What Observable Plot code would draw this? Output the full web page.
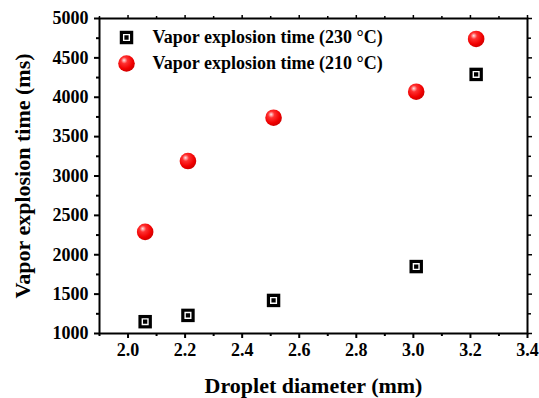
<!DOCTYPE html>
<html>
<head>
<meta charset="utf-8">
<script src="https://cdn.jsdelivr.net/npm/d3@7"></script>
<script src="https://cdn.jsdelivr.net/npm/@observablehq/plot@0.6"></script>
<style>
  body { margin: 0; background: #fff; }
  #chart svg { font-family: "Liberation Serif", "Times New Roman", serif; font-weight: bold; }
</style>
</head>
<body>
<div id="chart"></div>
<script>
// Data
const diameters = [2.06, 2.21, 2.51, 3.01, 3.22];
const time230 = [1150, 1230, 1420, 1850, 4290];
const time210 = [2290, 3190, 3740, 4070, 4740];
const seriesNames = ["Vapor explosion time (230 \u00B0C)", "Vapor explosion time (210 \u00B0C)"];
const xTicks = [2.0, 2.2, 2.4, 2.6, 2.8, 3.0, 3.2, 3.4];
const xMinorTicks = [1.9, 2.1, 2.3, 2.5, 2.7, 2.9, 3.1, 3.3];
const yTicks = [1000, 1500, 2000, 2500, 3000, 3500, 4000, 4500, 5000];
const yMinorTicks = [1250, 1750, 2250, 2750, 3250, 3750, 4250, 4750];
const xLabel = "Droplet diameter (mm)";
const yLabel = "Vapor explosion time (ms)";

const data230 = diameters.map((d, i) => ({d, t: time230[i]}));
const data210 = diameters.map((d, i) => ({d, t: time210[i]}));
const legendSq = [{name: seriesNames[0]}];
const legendCi = [{name: seriesNames[1]}];

const tickFont = 18;
const legendFont = 18;
const labelFont = 22;
const chart = Plot.plot({
  width: 539,
  height: 398,
  marginLeft: 99,
  marginRight: 12,
  marginTop: 18,
  marginBottom: 65,
  style: {fontFamily: "Liberation Serif, serif", fontWeight: "bold", color: "#000"},
  x: {domain: [1.9, 3.4]},
  y: {domain: [1000, 5000]},
  marks: [
    Plot.axisX(xTicks, {anchor: "bottom", tickSize: 5, tickPadding: 5, strokeWidth: 2, tickFormat: d => d.toFixed(1), label: null, fontSize: tickFont}),
    Plot.axisX(xMinorTicks, {anchor: "bottom", tickSize: 3, strokeWidth: 2, text: null, label: null}),
    Plot.axisX(xTicks, {anchor: "top", tickSize: 4, strokeWidth: 1.5, text: null, label: null}),
    Plot.axisX(xMinorTicks, {anchor: "top", tickSize: 3, strokeWidth: 1.5, text: null, label: null}),
    Plot.axisY(yTicks, {anchor: "left", tickSize: 5, tickPadding: 6, strokeWidth: 2, tickFormat: d => String(d), label: null, fontSize: tickFont}),
    Plot.axisY(yMinorTicks, {anchor: "left", tickSize: 3, strokeWidth: 2, text: null, label: null}),
    Plot.axisY(yTicks, {anchor: "right", tickSize: 4, strokeWidth: 1.5, text: null, label: null}),
    Plot.axisY(yMinorTicks, {anchor: "right", tickSize: 3, strokeWidth: 1.5, text: null, label: null}),
    Plot.frame({stroke: "#000", strokeWidth: 2}),
    // axis titles
    Plot.text([xLabel], {text: d => d, frameAnchor: "bottom", dy: 52, textAnchor: "middle", lineAnchor: "middle", fontSize: labelFont, fontWeight: "bold", fill: "#000"}),
    Plot.text([yLabel], {text: d => d, frameAnchor: "left", dx: -77, rotate: -90, textAnchor: "middle", lineAnchor: "middle", fontSize: labelFont, fontWeight: "bold", fill: "#000"}),
    // 230 °C squares
    Plot.dot(data230, {x: "d", y: "t", symbol: "square", r: 7.6, fill: "#000", stroke: "none"}),
    Plot.dot(data230, {x: "d", y: "t", symbol: "square", r: 3.2, fill: "#000", stroke: "#fff", strokeWidth: 1.4}),
    // 210 °C spheres
    Plot.dot(data210, {x: "d", y: "t", symbol: "circle", r: 8.3, fill: "url(#sphereGrad)", stroke: "none"}),
    // legend
    Plot.dot(legendSq, {frameAnchor: "top-left", dx: 27, dy: 19, symbol: "square", r: 7.6, fill: "#000", stroke: "none"}),
    Plot.dot(legendSq, {frameAnchor: "top-left", dx: 27, dy: 19, symbol: "square", r: 3.2, fill: "#000", stroke: "#fff", strokeWidth: 1.4}),
    Plot.text(legendSq, {text: "name", frameAnchor: "top-left", dx: 53, dy: 19, textAnchor: "start", lineAnchor: "middle", fontSize: legendFont, fontWeight: "bold", fill: "#000"}),
    Plot.dot(legendCi, {frameAnchor: "top-left", dx: 27, dy: 45, symbol: "circle", r: 8.3, fill: "url(#sphereGrad)", stroke: "none"}),
    Plot.text(legendCi, {text: "name", frameAnchor: "top-left", dx: 53, dy: 45, textAnchor: "start", lineAnchor: "middle", fontSize: legendFont, fontWeight: "bold", fill: "#000"})
  ]
});
document.getElementById("chart").appendChild(chart);

// gradient for 3D spheres
const svg = d3.select(chart);
const defs = svg.insert("defs", ":first-child");
const grad = defs.append("radialGradient").attr("id", "sphereGrad")
  .attr("cx", "40%").attr("cy", "35%").attr("r", "65%").attr("fx", "35%").attr("fy", "30%");
grad.append("stop").attr("offset", "0%").attr("stop-color", "#ffe6e6");
grad.append("stop").attr("offset", "30%").attr("stop-color", "#ff3030");
grad.append("stop").attr("offset", "75%").attr("stop-color", "#f00000");
grad.append("stop").attr("offset", "100%").attr("stop-color", "#d00000");
</script>
</body>
</html>
